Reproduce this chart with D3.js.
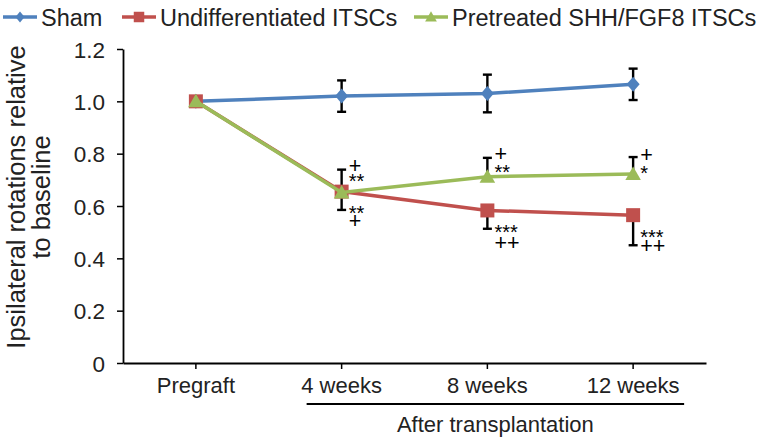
<!DOCTYPE html>
<html><head><meta charset="utf-8">
<script src="https://cdn.jsdelivr.net/npm/d3@7/dist/d3.min.js"></script>
<style>body{margin:0;background:#fff}svg{display:block;font-family:"Liberation Sans",Arial,sans-serif}</style>
</head><body><svg id="c" width="766" height="439"></svg>
<script>
const categories = ["Pregraft", "4 weeks", "8 weeks", "12 weeks"];
const yTicks = [0, 0.2, 0.4, 0.6, 0.8, 1.0, 1.2];
const seriesNames = ["Sham", "Undifferentiated ITSCs", "Pretreated SHH/FGF8 ITSCs"];
const shamValues = [1.0, 1.02, 1.03, 1.065];
const shamErr = [0, 0.06, 0.072, 0.06];
const undiffValues = [1.0, 0.655, 0.583, 0.565];
const undiffErr = [0, 0.07, 0.07, 0.115];
const pretreatValues = [1.0, 0.652, 0.712, 0.722];
const pretreatErr = [0, 0.087, 0.072, 0.065];
// significance marks (pretreated above, undifferentiated below) and the value level they sit at
const upperNotes = [[], ["+", "**"], ["+", "**"], ["+", "*"]];
const upperNoteAt = [[], [0.757, 0.711], [0.802, 0.749], [0.799, 0.745]];
const lowerNotes = [[], ["**", "+"], ["***", "++"], ["***", "++"]];
const lowerNoteAt = [[], [0.592, 0.546], [0.516, 0.462], [0.497, 0.451]];

const svg = d3.select("#c");
const m = {l:123, r:60, t:49, b:76};
const W = 766, H = 439;
const x = d3.scaleBand().domain(categories).range([m.l, W - m.r]);
const y = d3.scaleLinear().domain([0, 1.2]).range([H - m.b, m.t]);
const cx = c => x(c) + x.bandwidth()/2;
const FONT = "Liberation Sans, Arial, sans-serif";

// axes
const ya = svg.append("g").attr("transform", `translate(${m.l},0)`)
  .call(d3.axisLeft(y).tickValues(yTicks).tickSize(6).tickSizeOuter(0)
    .tickFormat(d => d === 0 ? "0" : d3.format(".1f")(d)));
ya.attr("font-family", FONT).attr("font-size", 22.5);
ya.select(".domain").attr("stroke", "#000").attr("stroke-width", 1.8);
ya.selectAll(".tick line").attr("stroke", "#000").attr("stroke-width", 1.5);
ya.selectAll(".tick text").attr("fill", "#222").attr("x", -18).attr("dy", "0.36em");

const xa = svg.append("g").attr("transform", `translate(0,${H - m.b})`)
  .call(d3.axisBottom(x).tickSize(6).tickSizeOuter(0));
xa.attr("font-family", FONT).attr("font-size", 22);
xa.select(".domain").attr("stroke", "#000").attr("stroke-width", 1.8);
xa.selectAll(".tick line").attr("stroke", "#000").attr("stroke-width", 1.5);
xa.selectAll(".tick text").attr("fill", "#222").attr("y", 30).attr("dy", 0);

// after transplantation bracket
const bx1 = cx(categories[1]) - 35, bx2 = cx(categories[3]) + 51;
svg.append("line").attr("x1", bx1).attr("x2", bx2)
  .attr("y1", 404).attr("y2", 404).attr("stroke", "#000").attr("stroke-width", 1.8);
svg.append("text").attr("x", (bx1 + bx2)/2).attr("y", 432)
  .attr("text-anchor", "middle").attr("font-size", 22).attr("fill", "#222").text("After transplantation");

// y title
svg.append("text").attr("transform", "translate(25,197) rotate(-90)").attr("text-anchor", "middle")
  .attr("font-size", 25.5).attr("fill", "#222")
  .selectAll("tspan").data(["Ipsilateral rotations relative", "to baseline"]).join("tspan")
  .attr("x", 0).attr("dy", (d,i) => i ? 25 : 0).text(d => d);

const colors = ["#4f81bd", "#c0504d", "#9bbb59"];
const diamond = (w, h) => ({draw(ctx){ ctx.moveTo(0,-h/2); ctx.lineTo(w/2,0); ctx.lineTo(0,h/2); ctx.lineTo(-w/2,0); ctx.closePath(); }});
const series = [
  {vals: shamValues, err: shamErr, dir: "both", shape: diamond(13, 15), lshape: diamond(9, 11), size: 1, lsize: 1},
  {vals: undiffValues, err: undiffErr, dir: "down", shape: d3.symbolSquare, lshape: d3.symbolSquare, size: 196, lsize: 110},
  {vals: pretreatValues, err: pretreatErr, dir: "up", shape: d3.symbolTriangle, lshape: d3.symbolTriangle, size: 105, lsize: 60}
];

// error bars
function errBar(c, v, e, dir) {
  const g = svg.append("g").attr("stroke", "#000").attr("stroke-width", 2.4);
  const X = cx(c);
  const top = dir === "down" ? y(v) : y(v + e);
  const bot = dir === "up" ? y(v) : y(v - e);
  g.append("line").attr("x1", X).attr("x2", X).attr("y1", top).attr("y2", bot);
  if (dir !== "down") g.append("line").attr("x1", X-4.5).attr("x2", X+4.5).attr("y1", top).attr("y2", top);
  if (dir !== "up") g.append("line").attr("x1", X-4.5).attr("x2", X+4.5).attr("y1", bot).attr("y2", bot);
}
series.forEach(s => s.vals.forEach((v,i) => { if (s.err[i] > 0) errBar(categories[i], v, s.err[i], s.dir); }));

const line = d3.line().x((d,i) => cx(categories[i])).y(d => y(d));
series.forEach((s, k) => {
  svg.append("path").datum(s.vals).attr("d", line).attr("fill", "none")
    .attr("stroke", colors[k]).attr("stroke-width", 3.5);
  svg.selectAll(null).data(s.vals).join("path")
    .attr("transform", (d,i) => `translate(${cx(categories[i])},${y(d) + (k === 2 ? 1.5 : 0)})`)
    .attr("d", d3.symbol().type(s.shape).size(s.size)).attr("fill", colors[k]);
});

// significance notes: one text element per group, one tspan per line
function notes(list, at) {
  list.forEach((arr, i) => {
    if (!arr.length) return;
    const t = svg.append("text").attr("fill", "#000");
    arr.forEach((s, j) => {
      const isStar = s.includes("*");
      t.append("tspan").attr("x", cx(categories[i]) + 7)
        .attr("y", y(at[i][j]) + (isStar ? 11.5 : 7.8))
        .attr("font-size", isStar ? 20 : 21.5).text(s);
    });
  });
}
notes(upperNotes, upperNoteAt);
notes(lowerNotes, lowerNoteAt);

// legend
const lx = [3, 122, 414];
const leg = svg.append("g");
seriesNames.forEach((n, k) => {
  const g = leg.append("g").attr("transform", `translate(${lx[k]},17)`);
  g.append("line").attr("x1", 0).attr("x2", 34).attr("stroke", colors[k]).attr("stroke-width", 3.5);
  g.append("path").attr("transform", `translate(17,${k === 2 ? 1 : 0})`)
    .attr("d", d3.symbol().type(series[k].lshape).size(series[k].lsize)).attr("fill", colors[k]);
  g.append("text").attr("x", 38).attr("y", 8.5).attr("font-size", 23.5).attr("fill", "#222").text(n);
});
</script></body></html>
